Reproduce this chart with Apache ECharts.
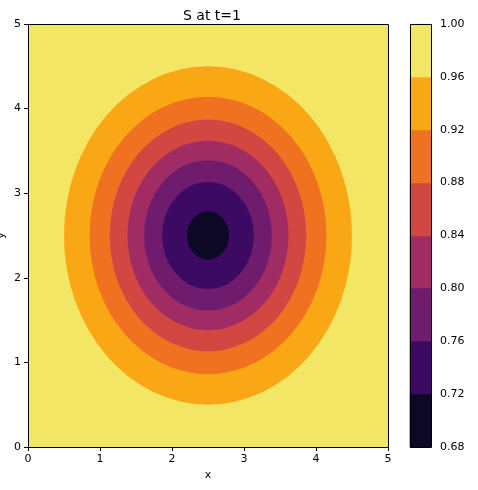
<!DOCTYPE html>
<html>
<head>
<meta charset="utf-8">
<script src="https://cdn.jsdelivr.net/npm/echarts@6/dist/echarts.min.js"></script>
<style>
  html, body { margin: 0; padding: 0; background: #fff; }
  #chart { width: 478px; height: 490px; }
</style>
</head>
<body>
<div id="chart"></div>
<script>
// contour levels of the colorbar and the colour of each band between them
const levels = [0.68, 0.72, 0.76, 0.80, 0.84, 0.88, 0.92, 0.96, 1.00]
const bandColors = ['#0c0826', '#3c0a63', '#6f1c6e', '#a12b63', '#d34743', '#f07220', '#f9a715', '#f2e664']

// closed contours, outer to inner (centre and half widths in data units)
const contourLevels = [0.96, 0.92, 0.88, 0.84, 0.80, 0.76, 0.72]
const contourRx = [2.0, 1.645, 1.365, 1.118, 0.887, 0.635, 0.292]
const contourRy = [2.0, 1.64, 1.37, 1.12, 0.888, 0.632, 0.286]
const centerX = 2.5
const centerY = 2.5

const xRange = [0, 5]
const yRange = [0, 5]

const font = 'DejaVu Sans'
const ink = '#000'

// band below a contour level
function bandColor(level) {
  let i = levels.findIndex(v => Math.abs(v - level) < 1e-9)
  return bandColors[i - 1]
}

// the whole domain is the top band, then each contour filled on top
const fieldData = [[xRange[0], yRange[0], xRange[1], yRange[1], levels[levels.length - 1], 'rect']]
contourLevels.forEach((lv, i) => {
  fieldData.push([centerX, centerY, contourRx[i], contourRy[i], lv, 'ellipse'])
})

const barData = []
for (let i = 0; i < bandColors.length; i++) {
  barData.push([levels[i], levels[i + 1], bandColors[i]])
}

function renderField(params, api) {
  let item = fieldData[params.dataIndex]
  if (item[5] === 'rect') {
    let p0 = api.coord([item[0], item[3]])
    let p1 = api.coord([item[2], item[1]])
    return {
      type: 'rect',
      shape: { x: p0[0], y: p0[1], width: p1[0] - p0[0], height: p1[1] - p0[1] },
      style: { fill: bandColors[bandColors.length - 1] }
    }
  }
  let c = api.coord([item[0], item[1]])
  let s = api.size([item[2], item[3]])
  return {
    type: 'circle',
    x: c[0],
    y: c[1],
    scaleY: s[1] / s[0],
    shape: { cx: 0, cy: 0, r: s[0] },
    style: { fill: bandColor(item[4]) }
  }
}

function renderBand(params, api) {
  let item = barData[params.dataIndex]
  let p0 = api.coord([0, item[1]])
  let p1 = api.coord([1, item[0]])
  let y0 = Math.round(p0[1])
  let y1 = Math.round(p1[1])
  return {
    type: 'rect',
    shape: { x: p0[0], y: y0, width: p1[0] - p0[0], height: y1 - y0 },
    style: { fill: item[2], stroke: item[2], lineWidth: 0.6 }
  }
}

// black frame round a grid, from its axis extents
function frame(x0, x1, y0, y1) {
  return function (params, api) {
    let a = api.coord([x0, y1])
    let b = api.coord([x1, y0])
    return {
      type: 'rect',
      shape: { x: Math.round(a[0]) + 0.5, y: Math.round(a[1]) + 0.5, width: Math.round(b[0] - a[0]), height: Math.round(b[1] - a[1]) },
      style: { fill: 'none', stroke: ink, lineWidth: 1 }
    }
  }
}

const tickStyle = { show: true, inside: false, length: 4, lineStyle: { color: ink, width: 1 } }
const labelStyle = { color: ink, fontFamily: font, fontSize: 11 }

const option = {
  animation: false,
  title: {
    text: 'S at t=1',
    left: 207,
    top: 4,
    textAlign: 'center',
    textStyle: { color: ink, fontFamily: font, fontSize: 14, fontWeight: 'normal' }
  },
  grid: [
    { left: 28, top: 24, width: 360, height: 423, containLabel: false, outerBoundsMode: 'none' },
    { left: 410, top: 24, width: 21, height: 423, containLabel: false, outerBoundsMode: 'none' }
  ],
  xAxis: [
    {
      gridIndex: 0, type: 'value', min: xRange[0], max: xRange[1], interval: 1,
      name: 'x', nameLocation: 'middle', nameGap: 23, nameMoveOverlap: false,
      nameTextStyle: { color: ink, fontFamily: font, fontSize: 11 },
      axisLine: { show: false }, axisTick: tickStyle, splitLine: { show: false },
      axisLabel: Object.assign({ margin: 7 }, labelStyle)
    },
    {
      gridIndex: 1, type: 'value', min: 0, max: 1, show: false
    }
  ],
  yAxis: [
    {
      gridIndex: 0, type: 'value', min: yRange[0], max: yRange[1], interval: 1,
      name: 'y', nameLocation: 'middle', nameGap: 21, nameMoveOverlap: false,
      nameTextStyle: { color: ink, fontFamily: font, fontSize: 11 },
      axisLine: { show: false }, axisTick: tickStyle, splitLine: { show: false },
      axisLabel: Object.assign({ margin: 7 }, labelStyle)
    },
    {
      gridIndex: 1, type: 'value', position: 'right',
      min: levels[0], max: levels[levels.length - 1], interval: 0.04,
      axisLine: { show: false }, axisTick: tickStyle, splitLine: { show: false },
      axisLabel: Object.assign({ margin: 9, formatter: v => v.toFixed(2) }, labelStyle)
    }
  ],
  series: [
    {
      type: 'custom', xAxisIndex: 0, yAxisIndex: 0, clip: true,
      renderItem: renderField, data: fieldData.map(d => d.slice(0, 5)), silent: true
    },
    {
      type: 'custom', xAxisIndex: 0, yAxisIndex: 0, z: 5,
      renderItem: frame(xRange[0], xRange[1], yRange[0], yRange[1]), data: [[0, 0]], silent: true
    },
    {
      type: 'custom', xAxisIndex: 1, yAxisIndex: 1,
      renderItem: renderBand, data: barData.map(d => [d[0], d[1]]), silent: true
    },
    {
      type: 'custom', xAxisIndex: 1, yAxisIndex: 1, z: 5,
      renderItem: frame(0, 1, levels[0], levels[levels.length - 1]), data: [[0, 0.8]], silent: true
    }
  ]
}

const chart = echarts.init(document.getElementById('chart'), null, { renderer: 'canvas' })
chart.setOption(option)
</script>
</body>
</html>
